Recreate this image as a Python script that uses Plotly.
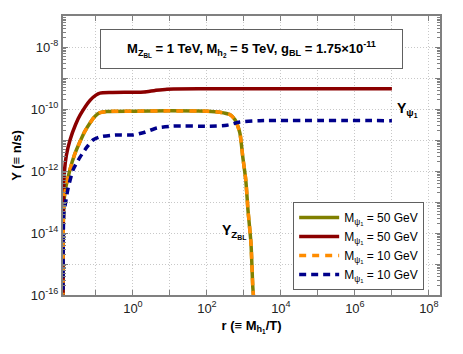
import plotly.graph_objects as go

# r = M_h1/T values and abundances
r_red = [0.0129, 0.0130, 0.01334, 0.01413, 0.01585, 0.01995, 0.0282, 0.0372, 0.0692,
         0.1, 0.129, 0.251, 1.0, 2.0, 3.98, 8.3, 100, 1e7]
y_red = [1e-17, 1e-14, 1.58e-13, 1e-12, 3.16e-12, 1e-11, 3.16e-11, 6.3e-11, 1.9e-10,
         2.8e-10, 3.24e-10, 3.39e-10, 3.47e-10, 3.55e-10, 3.98e-10, 4.37e-10, 4.47e-10, 4.47e-10]

r_zbl = [0.0129, 0.0130, 0.0135, 0.01445, 0.01995, 0.0269, 0.0372, 0.0501, 0.0692, 0.0933,
         0.129, 0.2, 1.0, 10, 100, 224, 417, 575, 776, 933, 1122, 1288, 1549, 1738, 1862]
y_zbl = [1e-17, 1e-14, 6.3e-14, 2.0e-13, 1.12e-12, 3.55e-12, 8.9e-12, 1.9e-11, 3.55e-11, 5.75e-11,
         7.6e-11, 8.3e-11, 8.5e-11, 8.7e-11, 8.5e-11, 7.9e-11, 6.6e-11, 4.5e-11, 1.7e-11, 2.8e-12,
         5.1e-13, 5.5e-14, 4.8e-15, 1.8e-16, 6.3e-17]

r_blue = [0.0129, 0.0135, 0.01445, 0.01738, 0.024, 0.0372, 0.0575, 0.0832, 0.129, 0.324,
          1.0, 2.09, 4.47, 12, 120, 347, 776, 2692, 1e7]
y_blue = [1e-17, 4e-14, 6.9e-14, 2.5e-13, 1.07e-12, 2.8e-12, 6.0e-12, 1e-11, 1.26e-11, 1.45e-11,
          1.45e-11, 1.78e-11, 2.45e-11, 2.8e-11, 2.8e-11, 3.0e-11, 3.8e-11, 4.2e-11, 4.2e-11]

y_ticks = [1e-16, 1e-15, 1e-14, 1e-13, 1e-12, 1e-11, 1e-10, 1e-9, 1e-8, 1e-7]
y_labels = ["10<sup>-16</sup>", "", "10<sup>-14</sup>", "", "10<sup>-12</sup>", "",
            "10<sup>-10</sup>", "", "10<sup>-8</sup>", ""]
x_ticks = [1e-1, 1e0, 1e1, 1e2, 1e3, 1e4, 1e5, 1e6, 1e7, 1e8]
x_labels = ["", "10<sup>0</sup>", "", "10<sup>2</sup>", "", "10<sup>4</sup>", "",
            "10<sup>6</sup>", "", "10<sup>8</sup>"]

leg = "M<sub>ψ<sub>1</sub></sub> = %s GeV"

fig = go.Figure()
fig.add_trace(go.Scatter(x=r_zbl, y=y_zbl, mode="lines", name=leg % "50",
                         line=dict(color="#808000", width=3.5, shape="spline", smoothing=0.6)))
fig.add_trace(go.Scatter(x=r_red, y=y_red, mode="lines", name=leg % "50",
                         line=dict(color="#8b0000", width=3.5, shape="spline", smoothing=0.6)))
fig.add_trace(go.Scatter(x=r_zbl, y=y_zbl, mode="lines", name=leg % "10",
                         line=dict(color="#ff8c00", width=3.5, dash="7px,6px", shape="spline", smoothing=0.6)))
fig.add_trace(go.Scatter(x=r_blue, y=y_blue, mode="lines", name=leg % "10",
                         line=dict(color="#00008b", width=3.5, dash="7px,5px", shape="spline", smoothing=0.6)))

axis_common = dict(type="log", showline=True, linecolor="#808080", linewidth=2, mirror="ticks",
                   ticks="inside", tickcolor="#808080", ticklen=5, showgrid=True,
                   gridcolor="#c8c8c8", griddash="1px,2px", gridwidth=1, zeroline=False,
                   tickmode="array", tickfont=dict(size=13, color="#222"), automargin=False)

fig.update_xaxes(**axis_common, range=[-1.89, 8.3], tickvals=x_ticks, ticktext=x_labels,
                 title=dict(text="<b>r (≡ M<sub>h<sub>1</sub></sub>/T)</b>", font=dict(size=13), standoff=6))
fig.update_yaxes(**axis_common, range=[-16, -7], tickvals=y_ticks, ticktext=y_labels,
                 minor=dict(ticks="inside", ticklen=3, tickcolor="#808080", dtick="D1", showgrid=False),
                 title=dict(text="<b>Y (≡ n/s)</b>", font=dict(size=13), standoff=6))

fig.add_annotation(xref="paper", yref="paper", x=0.5, y=0.882, xanchor="center", yanchor="middle",
                   text="<b>M<sub>Z<sub>BL</sub></sub> = 1 TeV, M<sub>h<sub>2</sub></sub> = 5 TeV, "
                        "g<sub>BL</sub> = 1.75×10<sup>-11</sup></b>",
                   showarrow=False, font=dict(size=13, color="black"),
                   bordercolor="#606060", borderwidth=1, borderpad=2, bgcolor="white",
                   width=297, height=34)
fig.add_annotation(x=7.43, y=-10.03, text="<b>Y<sub>ψ<sub>1</sub></sub></b>",
                   showarrow=False, font=dict(size=14, color="black"))
fig.add_annotation(x=2.72, y=-13.95, text="<b>Y<sub>Z<sub>BL</sub></sub></b>",
                   showarrow=False, font=dict(size=14, color="black"))

# the page body adds an 8px offset, so margins are shifted to compensate
fig.update_layout(
    width=463, height=354,
    margin=dict(l=55, r=31, t=8, b=67),
    paper_bgcolor="white", plot_bgcolor="white",
    font=dict(family="Liberation Sans, Arial, sans-serif", size=13, color="black"),
    legend=dict(x=0.958, y=0.018, xanchor="right", yanchor="bottom",
                bordercolor="#606060", borderwidth=1, bgcolor="white",
                font=dict(size=12), tracegroupgap=0, itemwidth=40),
)

fig.write_html("out.html")
